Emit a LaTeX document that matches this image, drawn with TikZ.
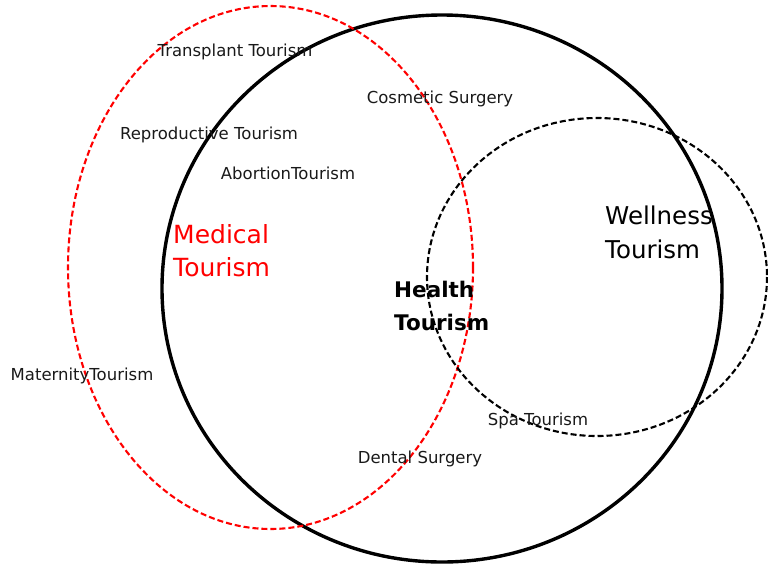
\documentclass[tikz,border=0pt]{standalone}
\usepackage{fontspec}
\setmainfont{DejaVu Sans}
\begin{document}
\begin{tikzpicture}[x=1pt,y=-1pt,
  small/.style={inner sep=0pt, font=\fontsize{16.5}{19}\selectfont, text=black!90},
  big/.style={inner sep=0pt, align=left, anchor=west, font=\fontsize{24.5}{34}\selectfont},
  dashline/.style={line width=2.1pt, dash pattern=on 6pt off 3pt}]
\useasboundingbox (0,0) rectangle (768,563);
% shapes
\draw[line width=3.4pt] (442,288.5) ellipse [x radius=280, y radius=273.5];
\draw[red, dashline] (270.5,267.5) ellipse [x radius=202.5, y radius=261.5];
\draw[black, dashline] (597,277) ellipse [x radius=170, y radius=159];
% labels
\node[small] (tt) at (235,52) {Transplant Tourism};
\node[small] (cs) at (440,99) {Cosmetic Surgery};
\node[small] (rt) at (209,135) {Reproductive Tourism};
\node[small] (at) at (288,173) {AbortionTourism};
\node[small] (mt) at (82,376) {MaternityTourism};
\node[small] (st) at (538,421) {Spa Tourism};
\node[small] (ds) at (420,459) {Dental Surgery};
\node[big, text=red, font=\fontsize{25}{33}\selectfont] (med) at (173,250.5) {Medical\\Tourism};
\node[big, font=\bfseries\fontsize{21.5}{33}\selectfont] (hea) at (394,305.5) {Health\\Tourism};
\node[big] (wel) at (605,232) {Wellness\\Tourism};
\end{tikzpicture}
\end{document}
